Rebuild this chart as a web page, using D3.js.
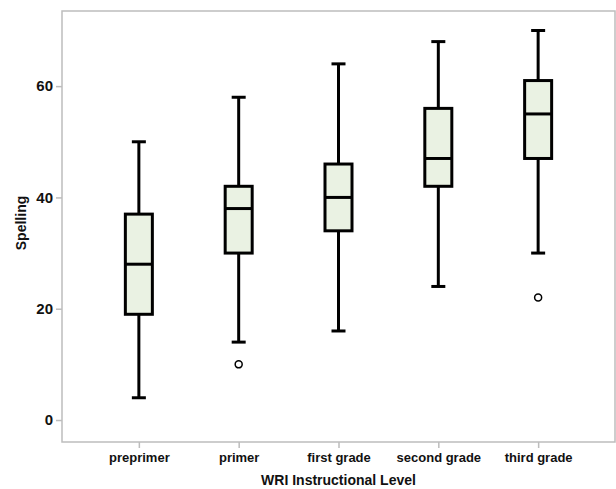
<!DOCTYPE html>
<html>
<head>
<meta charset="utf-8">
<script src="https://cdn.jsdelivr.net/npm/d3@7"></script>
<style>
  body { margin: 0; background: white; }
  text { font-family: "Liberation Sans", Arial, sans-serif; }
</style>
</head>
<body>
<div id="chart"></div>
<script>
var levels = ['preprimer', 'primer', 'first grade', 'second grade', 'third grade'];
var whiskerLow  = [4, 14, 16, 24, 30];
var q1          = [19, 30, 34, 42, 47];
var median      = [28, 38, 40, 47, 55];
var q3          = [37, 42, 46, 56, 61];
var whiskerHigh = [50, 58, 64, 68, 70];
var outliers    = [[], [10], [], [], [22]];
var yTicks = [0, 20, 40, 60];

var svgWidth = 616, svgHeight = 489;
var plotLeft = 62, plotTop = 11, plotRight = 615, plotBottom = 442;

var svg = d3.select('#chart').append('svg')
    .attr('width', svgWidth)
    .attr('height', svgHeight)
    .style('background', 'white');

var x = d3.scalePoint().domain(levels).range([plotLeft, plotRight]).padding(0.77);
var y = d3.scaleLinear().domain([-3.95, 73.5]).range([plotBottom, plotTop]);

var boxes = levels.map(function(d, i) {
    return { level: d, lo: whiskerLow[i], q1: q1[i], med: median[i], q3: q3[i], hi: whiskerHigh[i], out: outliers[i] };
});

// frame
svg.append('rect')
    .attr('x', plotLeft).attr('y', plotTop)
    .attr('width', plotRight - plotLeft).attr('height', plotBottom - plotTop)
    .attr('fill', 'none').attr('stroke', '#bdbdbd').attr('stroke-width', 1.5);

// y axis
var yAxis = svg.append('g')
    .attr('transform', 'translate(' + plotLeft + ',0)')
    .call(d3.axisLeft(y).tickValues(yTicks).tickSize(6).tickPadding(3));
yAxis.select('.domain').remove();
yAxis.selectAll('line').attr('stroke', '#bdbdbd').attr('stroke-width', 1.5);
yAxis.selectAll('text').attr('font-size', 15).attr('font-weight', 'bold').attr('fill', '#111');

// x axis
var xAxis = svg.append('g')
    .attr('transform', 'translate(0,' + plotBottom + ')')
    .call(d3.axisBottom(x).tickSize(6).tickPadding(5));
xAxis.select('.domain').remove();
xAxis.selectAll('line').attr('stroke', '#bdbdbd').attr('stroke-width', 1.5);
xAxis.selectAll('text').attr('font-size', 13).attr('font-weight', 'bold').attr('fill', '#111');

// axis titles
svg.append('text')
    .text('WRI Instructional Level')
    .attr('x', (plotLeft + plotRight) / 2).attr('y', 485)
    .attr('text-anchor', 'middle')
    .attr('font-size', 14).attr('font-weight', 'bold').attr('fill', '#111');

svg.append('text')
    .text('Spelling')
    .attr('transform', 'translate(26,223) rotate(-90)')
    .attr('text-anchor', 'middle')
    .attr('font-size', 14).attr('font-weight', 'bold').attr('fill', '#111');

var boxW = 27, capW = 14;

var g = svg.selectAll('.box').data(boxes).enter().append('g')
    .attr('class', 'box');

// whiskers
g.append('line')
    .attr('x1', function(d) { return x(d.level); }).attr('x2', function(d) { return x(d.level); })
    .attr('y1', function(d) { return y(d.lo); }).attr('y2', function(d) { return y(d.q1); })
    .attr('stroke', '#000').attr('stroke-width', 3);
g.append('line')
    .attr('x1', function(d) { return x(d.level); }).attr('x2', function(d) { return x(d.level); })
    .attr('y1', function(d) { return y(d.q3); }).attr('y2', function(d) { return y(d.hi); })
    .attr('stroke', '#000').attr('stroke-width', 3);

// caps
g.append('line')
    .attr('x1', function(d) { return x(d.level) - capW / 2; }).attr('x2', function(d) { return x(d.level) + capW / 2; })
    .attr('y1', function(d) { return y(d.lo); }).attr('y2', function(d) { return y(d.lo); })
    .attr('stroke', '#000').attr('stroke-width', 3);
g.append('line')
    .attr('x1', function(d) { return x(d.level) - capW / 2; }).attr('x2', function(d) { return x(d.level) + capW / 2; })
    .attr('y1', function(d) { return y(d.hi); }).attr('y2', function(d) { return y(d.hi); })
    .attr('stroke', '#000').attr('stroke-width', 3);

// box
g.append('rect')
    .attr('x', function(d) { return x(d.level) - boxW / 2; })
    .attr('y', function(d) { return y(d.q3); })
    .attr('width', boxW)
    .attr('height', function(d) { return y(d.q1) - y(d.q3); })
    .attr('fill', '#eaf2e3').attr('stroke', '#000').attr('stroke-width', 3);

// median
g.append('line')
    .attr('x1', function(d) { return x(d.level) - boxW / 2; }).attr('x2', function(d) { return x(d.level) + boxW / 2; })
    .attr('y1', function(d) { return y(d.med); }).attr('y2', function(d) { return y(d.med); })
    .attr('stroke', '#000').attr('stroke-width', 3);

// outliers
g.selectAll('circle').data(function(d) { return d.out.map(function(v) { return { level: d.level, v: v }; }); })
    .enter().append('circle')
    .attr('cx', function(d) { return x(d.level); })
    .attr('cy', function(d) { return y(d.v); })
    .attr('r', 3.5)
    .attr('fill', 'white').attr('stroke', '#000').attr('stroke-width', 1.5);
</script>
</body>
</html>
